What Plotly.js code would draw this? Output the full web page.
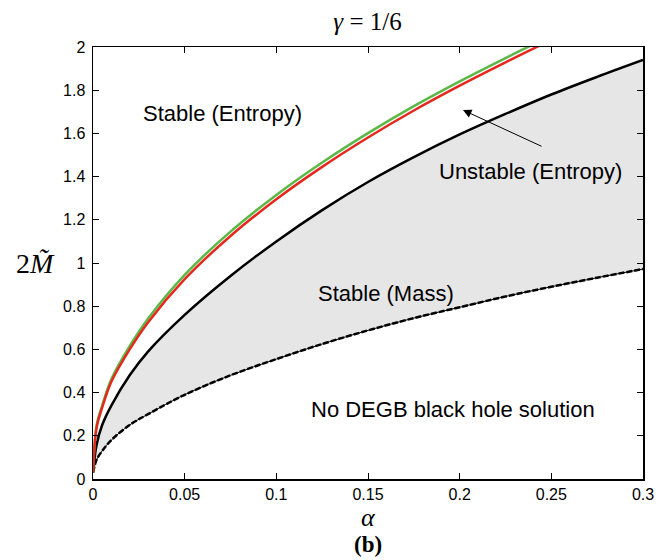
<!DOCTYPE html>
<html>
<head>
<meta charset="utf-8">
<script src="https://cdn.plot.ly/plotly-3.0.1.min.js"></script>
<style>html,body{margin:0;padding:0;background:#fff;}#chart{width:667px;height:560px;}</style>
</head>
<body>
<div id="chart"></div>
<script>
// alpha grid shared by the mass curves
const alpha = [0, 0.002, 0.005, 0.01, 0.02, 0.03, 0.05, 0.075, 0.1, 0.125, 0.15, 0.175, 0.2, 0.225, 0.25, 0.275, 0.3];
// upper stability boundary (black solid)
const massUpper = [0.03, 0.16, 0.25, 0.34, 0.48, 0.59, 0.76, 0.94, 1.10, 1.245, 1.375, 1.49, 1.595, 1.69, 1.78, 1.862, 1.94];
// lower existence boundary (black dashed)
const massLower = [0.03, 0.09, 0.13, 0.18, 0.25, 0.30, 0.39, 0.48, 0.555, 0.625, 0.688, 0.745, 0.795, 0.845, 0.89, 0.932, 0.972];
// entropy curves
const alphaEnt = [0, 0.002, 0.005, 0.01, 0.02, 0.03, 0.05, 0.075, 0.1, 0.125, 0.15, 0.175, 0.2, 0.225, 0.25];
const redCurve = [0.03, 0.24, 0.33, 0.45, 0.60, 0.725, 0.925, 1.125, 1.295, 1.445, 1.581, 1.706, 1.821, 1.929, 2.033];
const greenCurve = [0.03, 0.25, 0.34, 0.462, 0.615, 0.742, 0.945, 1.145, 1.315, 1.465, 1.601, 1.726, 1.841, 1.949, 2.053];

const xTicks = [0, 0.05, 0.1, 0.15, 0.2, 0.25, 0.3];
const xTickText = ["0", "0.05", "0.1", "0.15", "0.2", "0.25", "0.3"];
const yTicks = [0, 0.2, 0.4, 0.6, 0.8, 1, 1.2, 1.4, 1.6, 1.8, 2];
const yTickText = ["0", "0.2", "0.4", "0.6", "0.8", "1", "1.2", "1.4", "1.6", "1.8", "2"];

const traces = [
  {x: alpha, y: massLower, mode: 'lines', line: {width: 0, color: 'rgba(0,0,0,0)', shape: 'spline'}, hoverinfo: 'skip', showlegend: false},
  {x: alpha, y: massUpper, mode: 'lines', fill: 'tonexty', fillcolor: '#e6e6e6', line: {width: 0, color: 'rgba(0,0,0,0)', shape: 'spline'}, hoverinfo: 'skip', showlegend: false},
  {x: alpha, y: massUpper, mode: 'lines', line: {color: '#000000', width: 2.5, shape: 'spline'}, showlegend: false},
  {x: alpha, y: massLower, mode: 'lines', line: {color: '#000000', width: 1, shape: 'spline'}, showlegend: false},
  {x: alpha, y: massLower, mode: 'lines', line: {color: '#000000', width: 2.5, dash: '6px,2px', shape: 'spline'}, showlegend: false},
  {x: alphaEnt, y: greenCurve, mode: 'lines', line: {color: '#5cb846', width: 2.5, shape: 'spline'}, showlegend: false},
  {x: alphaEnt, y: redCurve, mode: 'lines', line: {color: '#e5281e', width: 2.5, shape: 'spline'}, showlegend: false}
];

const tickFont = {family: 'Liberation Sans, Arial, sans-serif', size: 16, color: '#000'};
const annFont = {family: 'Liberation Sans, Arial, sans-serif', size: 22, color: '#000'};

const layout = {
  width: 667, height: 560,
  margin: {l: 93, r: 24, t: 47, b: 81, pad: 0},
  paper_bgcolor: '#fff', plot_bgcolor: '#fff',
  showlegend: false,
  title: {text: '<i>γ</i> = 1/6', font: {family: 'Liberation Serif, Times New Roman, serif', size: 25, color: '#000'}, x: 0.551, xanchor: 'center', y: 0.962, yanchor: 'middle'},
  xaxis: {
    range: [0, 0.3], tickvals: xTicks, ticktext: xTickText, ticks: 'inside', ticklen: 6, tickcolor: '#000',
    showline: true, linecolor: '#000', linewidth: 1.5, mirror: 'ticks', showgrid: false, zeroline: false,
    tickfont: tickFont, fixedrange: true
  },
  yaxis: {
    range: [0, 2], tickvals: yTicks, ticktext: yTickText, ticks: 'inside', ticklen: 6, tickcolor: '#000',
    showline: true, linecolor: '#000', linewidth: 1.5, mirror: 'ticks', showgrid: false, zeroline: false,
    tickfont: tickFont, ticklabelstandoff: 3, fixedrange: true
  },
  annotations: [
    {xref: 'x', yref: 'y', x: 0.0704, y: 1.69, text: 'Stable (Entropy)', showarrow: false, font: annFont},
    {xref: 'x', yref: 'y', x: 0.2384, y: 1.425, text: 'Unstable (Entropy)', showarrow: false, font: annFont},
    {xref: 'x', yref: 'y', x: 0.16, y: 0.86, text: 'Stable (Mass)', showarrow: false, font: annFont},
    {xref: 'x', yref: 'y', x: 0.1964, y: 0.32, text: 'No DEGB black hole solution', showarrow: false, font: annFont},
    {xref: 'x', yref: 'y', x: 0.2018, y: 1.708, axref: 'x', ayref: 'y', ax: 0.2455, ay: 1.537, text: '', showarrow: true, arrowhead: 2, arrowsize: 1.7, arrowwidth: 1, arrowcolor: '#000'},
    {xref: 'paper', yref: 'paper', x: -0.105, y: 0.5, xanchor: 'center', yanchor: 'middle', text: '2<i>M̃</i>', showarrow: false, font: {family: 'Liberation Serif, Times New Roman, serif', size: 28, color: '#000'}},
    {xref: 'paper', yref: 'paper', x: 0.5, y: -0.09, xanchor: 'center', yanchor: 'middle', text: '<i>α</i>', showarrow: false, font: {family: 'Liberation Serif, Times New Roman, serif', size: 26, color: '#000'}},
    {xref: 'paper', yref: 'paper', x: 0.5, y: -0.152, xanchor: 'center', yanchor: 'middle', text: '<b>(b)</b>', showarrow: false, font: {family: 'Liberation Serif, Times New Roman, serif', size: 23, color: '#000'}}
  ]
};

Plotly.newPlot('chart', traces, layout, {displayModeBar: false, staticPlot: true});
</script>
</body>
</html>
